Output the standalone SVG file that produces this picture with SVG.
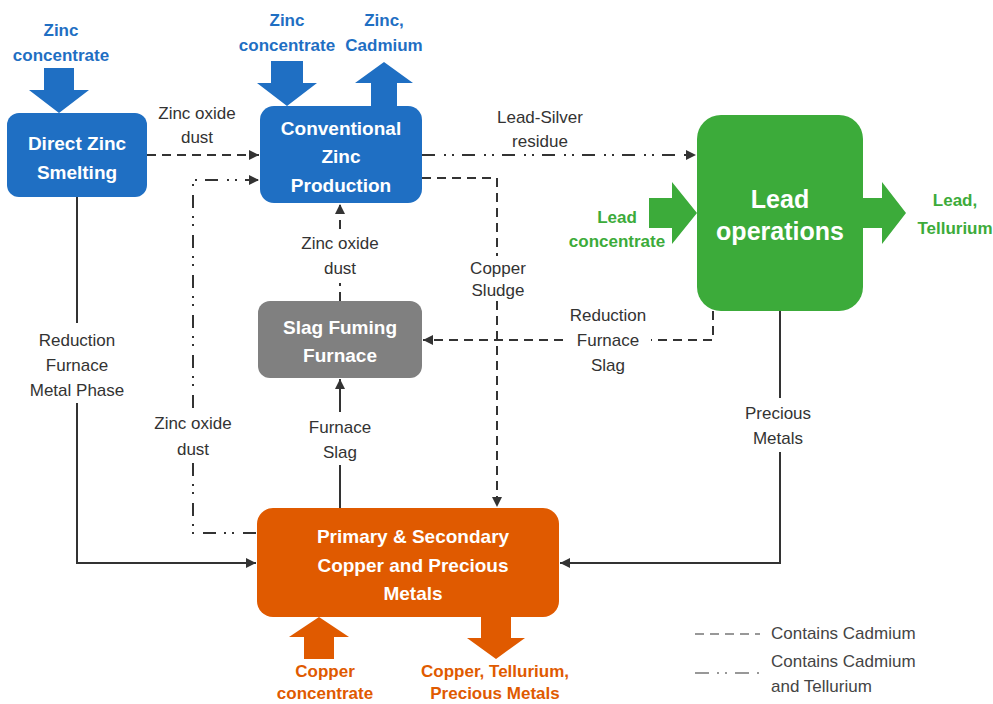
<svg xmlns="http://www.w3.org/2000/svg" width="993" height="704" viewBox="0 0 993 704">
  <style>
    .node-label { font-family: "Liberation Sans", Arial, sans-serif; font-weight: bold; font-size: 19px; fill: #ffffff; text-anchor: middle; }
    .big-label { font-size: 25px; }
    .flow-label { font-family: "Liberation Sans", Arial, sans-serif; font-size: 17px; fill: #333333; text-anchor: middle; }
    .legend-label { font-family: "Liberation Sans", Arial, sans-serif; font-size: 17px; fill: #444444; }
    .io-label { font-family: "Liberation Sans", Arial, sans-serif; font-weight: bold; font-size: 17px; text-anchor: middle; }
    .blue { fill: #1f6fc3; }
    .green { fill: #3cab3a; }
    .orange { fill: #e05a00; }
    .gray { fill: #808080; }
    .line { fill: none; stroke: #333333; stroke-width: 2; }
    .dashed { stroke-dasharray: 9 6; }
    .dashdot { stroke-dasharray: 13 9 2 6 2 8; }
    .legend-line { fill: none; stroke: #777777; stroke-width: 1.6; }
  </style>
  <defs>
    <marker id="ah" viewBox="0 0 10 10" refX="10" refY="5" markerWidth="10" markerHeight="11" markerUnits="userSpaceOnUse" orient="auto">
      <path d="M0,0 L10,5 L0,10 z" fill="#333333"/>
    </marker>
  </defs>

  <!-- Connectors -->
  <g id="connectors">
    <!-- Direct Zinc Smelting -> Conventional: zinc oxide dust -->
    <path class="line dashed" d="M147,155 H259" marker-end="url(#ah)"/>
    <!-- Copper plant -> Conventional: zinc oxide dust (Cd + Te) -->
    <path class="line dashdot" d="M256,533 H193 V460"/>
    <path class="line dashdot" d="M193,408 V180 H259" marker-end="url(#ah)"/>
    <!-- Direct Zinc Smelting -> Copper plant: metal phase -->
    <path class="line" d="M77,197 V323"/>
    <path class="line" d="M77,403 V563 H256" marker-end="url(#ah)"/>
    <!-- Conventional -> Lead: lead-silver residue -->
    <path class="line dashdot" d="M422,155 H696" marker-end="url(#ah)"/>
    <!-- Conventional -> Copper plant: copper sludge -->
    <path class="line dashed" d="M422,178 H497 V256"/>
    <path class="line dashed" d="M497,301 V507" marker-end="url(#ah)"/>
    <!-- Lead -> Slag fuming: reduction furnace slag -->
    <path class="line dashed" d="M713,311 V340 H651"/>
    <path class="line dashed" d="M563,340 H423" marker-end="url(#ah)"/>
    <!-- Slag fuming -> Conventional: zinc oxide dust -->
    <path class="line dashed" d="M340,301 V283"/>
    <path class="line dashed" d="M340,229 V204" marker-end="url(#ah)"/>
    <!-- Copper plant -> Slag fuming: furnace slag -->
    <path class="line" d="M340,508 V465"/>
    <path class="line" d="M340,412 V379" marker-end="url(#ah)"/>
    <!-- Lead -> Copper plant: precious metals -->
    <path class="line" d="M780,311 V398"/>
    <path class="line" d="M780,452 V563 H560" marker-end="url(#ah)"/>
  </g>

  <!-- Connector labels -->
  <g id="flow-labels">
    <text class="flow-label" x="197" y="119">Zinc oxide</text>
    <text class="flow-label" x="197" y="143">dust</text>
    <text class="flow-label" x="540" y="123">Lead-Silver</text>
    <text class="flow-label" x="540" y="147">residue</text>
    <text class="flow-label" x="340" y="249">Zinc oxide</text>
    <text class="flow-label" x="340" y="274">dust</text>
    <text class="flow-label" x="498" y="274">Copper</text>
    <text class="flow-label" x="498" y="296">Sludge</text>
    <text class="flow-label" x="608" y="321">Reduction</text>
    <text class="flow-label" x="608" y="346">Furnace</text>
    <text class="flow-label" x="608" y="371">Slag</text>
    <text class="flow-label" x="77" y="346">Reduction</text>
    <text class="flow-label" x="77" y="371">Furnace</text>
    <text class="flow-label" x="77" y="396">Metal Phase</text>
    <text class="flow-label" x="193" y="429">Zinc oxide</text>
    <text class="flow-label" x="193" y="455">dust</text>
    <text class="flow-label" x="340" y="433">Furnace</text>
    <text class="flow-label" x="340" y="458">Slag</text>
    <text class="flow-label" x="778" y="419">Precious</text>
    <text class="flow-label" x="778" y="444">Metals</text>
  </g>

  <!-- Direct Zinc Smelting -->
  <g id="direct-zinc">
    <polygon class="blue" points="44,68 74,68 74,90 89,90 59,113 29,90 44,90"/>
    <text class="io-label blue" x="61" y="36">Zinc</text>
    <text class="io-label blue" x="61" y="61">concentrate</text>
    <rect class="blue" x="7" y="113" width="140" height="84" rx="12"/>
    <text class="node-label" x="77" y="150">Direct Zinc</text>
    <text class="node-label" x="77" y="179">Smelting</text>
  </g>

  <!-- Conventional Zinc Production -->
  <g id="conventional-zinc">
    <polygon class="blue" points="271,61 303,61 303,83 317,83 287,106 257,83 271,83"/>
    <text class="io-label blue" x="287" y="26">Zinc</text>
    <text class="io-label blue" x="287" y="51">concentrate</text>
    <polygon class="blue" points="371,106 397,106 397,83 413,83 384,62 355,83 371,83"/>
    <text class="io-label blue" x="384" y="26">Zinc,</text>
    <text class="io-label blue" x="384" y="51">Cadmium</text>
    <rect class="blue" x="260" y="106" width="162" height="97" rx="14"/>
    <text class="node-label" x="341" y="135">Conventional</text>
    <text class="node-label" x="341" y="163">Zinc</text>
    <text class="node-label" x="341" y="192">Production</text>
  </g>

  <!-- Lead operations -->
  <g id="lead-operations">
    <polygon class="green" points="649,198 672,198 672,182 697,213 672,244 672,228 649,228"/>
    <text class="io-label green" x="617" y="223">Lead</text>
    <text class="io-label green" x="617" y="247">concentrate</text>
    <rect class="green" x="697" y="115" width="166" height="196" rx="24"/>
    <text class="node-label big-label" x="780" y="208">Lead</text>
    <text class="node-label big-label" x="780" y="240">operations</text>
    <polygon class="green" points="863,198 882,198 882,182 906,213 882,244 882,228 863,228"/>
    <text class="io-label green" x="955" y="206">Lead,</text>
    <text class="io-label green" x="955" y="234">Tellurium</text>
  </g>

  <!-- Slag Fuming Furnace -->
  <g id="slag-fuming">
    <rect class="gray" x="258" y="301" width="164" height="77" rx="12"/>
    <text class="node-label" x="340" y="334">Slag Fuming</text>
    <text class="node-label" x="340" y="362">Furnace</text>
  </g>

  <!-- Primary & Secondary Copper and Precious Metals -->
  <g id="copper-precious">
    <rect class="orange" x="257" y="508" width="302" height="109" rx="16"/>
    <text class="node-label" x="413" y="543">Primary &amp; Secondary</text>
    <text class="node-label" x="413" y="572">Copper and Precious</text>
    <text class="node-label" x="413" y="600">Metals</text>
    <polygon class="orange" points="304,659 334,659 334,637 349,637 319,617 289,637 304,637"/>
    <text class="io-label orange" x="325" y="677">Copper</text>
    <text class="io-label orange" x="325" y="699">concentrate</text>
    <polygon class="orange" points="481,617 511,617 511,638 525,638 496,659 467,638 481,638"/>
    <text class="io-label orange" x="495" y="677">Copper, Tellurium,</text>
    <text class="io-label orange" x="495" y="699">Precious Metals</text>
  </g>

  <!-- Legend -->
  <g id="legend">
    <path class="legend-line" d="M695,634 H760" stroke-dasharray="9 6"/>
    <text class="legend-label" x="771" y="639">Contains Cadmium</text>
    <path class="legend-line" d="M695,673 H760" stroke-dasharray="14 8 2 6 2 8"/>
    <text class="legend-label" x="771" y="667">Contains Cadmium</text>
    <text class="legend-label" x="771" y="692">and Tellurium</text>
  </g>
</svg>
